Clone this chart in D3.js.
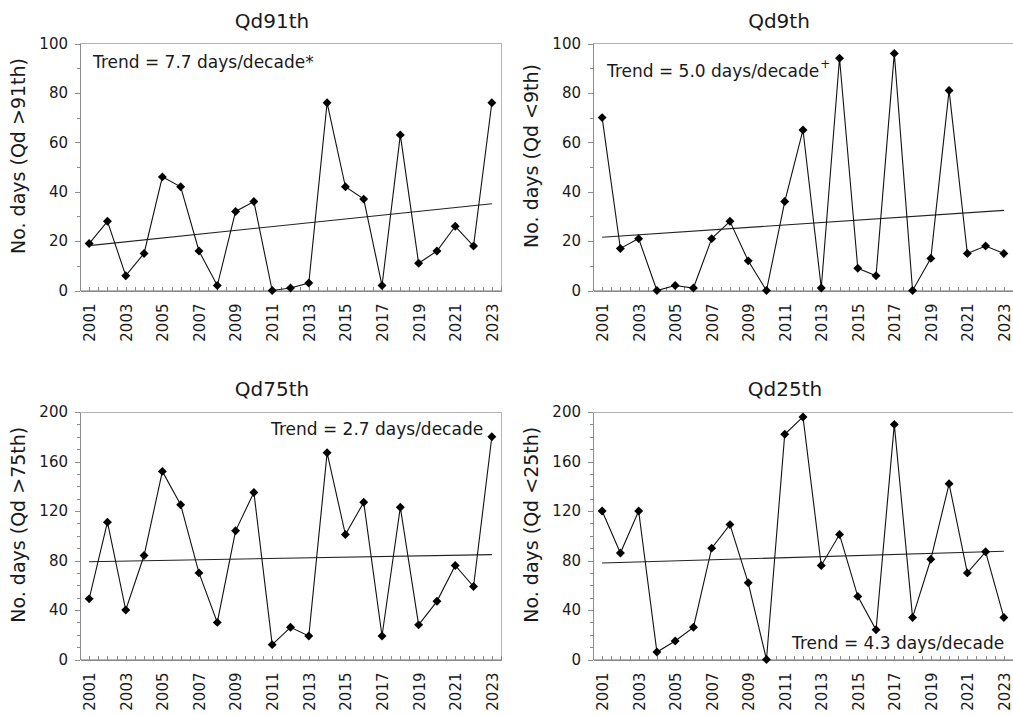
<!DOCTYPE html>
<html>
<head>
<meta charset="utf-8">
<script src="https://cdn.jsdelivr.net/npm/d3@7"></script>
<style>
  body { margin: 0; background: #fff; }
  svg { display: block; font-family: "DejaVu Sans", Verdana, sans-serif; }
  .axis path, .axis line { stroke: #8c8c8c; shape-rendering: crispEdges; }
  .axis text { fill: #1a1a1a; font-size: 15px; font-family: "DejaVu Sans", Verdana, sans-serif; }
</style>
</head>
<body>
<svg class="plot"></svg>
<script>
const width = 1013, height = 715;

// categories
const years = [2001, 2002, 2003, 2004, 2005, 2006, 2007, 2008, 2009, 2010, 2011, 2012,
               2013, 2014, 2015, 2016, 2017, 2018, 2019, 2020, 2021, 2022, 2023];
const yearLabels = [2001, 2003, 2005, 2007, 2009, 2011, 2013, 2015, 2017, 2019, 2021, 2023];

// series values (no. of days)
const qd91 = [19, 28, 6, 15, 46, 42, 16, 2, 32, 36, 0, 1, 3, 76, 42, 37, 2, 63, 11, 16, 26, 18, 76];
const qd9  = [70, 17, 21, 0, 2, 1, 21, 28, 12, 0, 36, 65, 1, 94, 9, 6, 96, 0, 13, 81, 15, 18, 15];
const qd75 = [49, 111, 40, 84, 152, 125, 70, 30, 104, 135, 12, 26, 19, 167, 101, 127, 19, 123, 28, 47, 76, 59, 180];
const qd25 = [120, 86, 120, 6, 15, 26, 90, 109, 62, 0, 182, 196, 76, 101, 51, 24, 190, 34, 81, 142, 70, 87, 34];

const titles = ["Qd91th", "Qd9th", "Qd75th", "Qd25th"];
const yLabels = ["No. days (Qd >91th)", "No. days (Qd <9th)", "No. days (Qd >75th)", "No. days (Qd <25th)"];
const trendTexts = ["Trend = 7.7 days/decade*", "Trend = 5.0 days/decade", "Trend = 2.7 days/decade", "Trend = 4.3 days/decade"];
const trendSup = ["", "+", "", ""];
const yMax = [100, 100, 200, 200];
const yMajor = [[0, 20, 40, 60, 80, 100], [0, 20, 40, 60, 80, 100],
                [0, 40, 80, 120, 160, 200], [0, 40, 80, 120, 160, 200]];

// layout of the four panels
const panels = [
  {values: qd91, left: 80,  top: 43.5, w: 421, h: 247, titleX: 272, titleY: 28,  trendX: 13,  trendY: 24.5},
  {values: qd9,  left: 593, top: 43.5, w: 420, h: 247, titleX: 779, titleY: 28,  trendX: 14,  trendY: 33},
  {values: qd75, left: 80,  top: 412,  w: 421, h: 247.5, titleX: 272, titleY: 396, trendX: 191, trendY: 23},
  {values: qd25, left: 593, top: 412,  w: 420, h: 247.5, titleX: 785, titleY: 396, trendX: 199, trendY: 236.5}
];

let svg = d3.select(".plot")
            .attr("width", width)
            .attr("height", height);

function fitLine(xs, ys) {
  let mx = d3.mean(xs), my = d3.mean(ys);
  let sxy = d3.sum(xs, (x, i) => (x - mx) * (ys[i] - my));
  let sxx = d3.sum(xs, (x) => (x - mx) * (x - mx));
  let b = sxy / sxx;
  return (x) => my + b * (x - mx);
}

panels.forEach((p, k) => {
  let x = d3.scaleLinear()
            .domain([years[0] - 0.5, years[years.length - 1] + 0.5])
            .range([0, p.w]);
  let y = d3.scaleLinear()
            .domain([0, yMax[k]])
            .range([p.h, 0]);

  let g = svg.append("g")
             .attr("transform", "translate(" + p.left + "," + p.top + ")");

  // Plot border
  g.append("rect")
   .attr("width", p.w)
   .attr("height", p.h)
   .style("fill", "none")
   .style("stroke", "#b4b4b4")
   .style("shape-rendering", "crispEdges");

  // x-Axis: ticks at every half year, labels on odd years
  let halfTicks = [];
  years.forEach((yr) => { halfTicks.push(yr - 0.5, yr); });
  halfTicks.push(years[years.length - 1] + 0.5);

  g.append("g")
   .attr("class", "axis")
   .attr("transform", "translate(0," + p.h + ")")
   .call(d3.axisBottom(x).tickValues(halfTicks).tickSize(-4).tickSizeOuter(0).tickFormat(""));

  let xl = g.append("g")
            .attr("class", "axis")
            .attr("transform", "translate(0," + p.h + ")")
            .call(d3.axisBottom(x).tickValues(yearLabels).tickSize(0).tickFormat(d3.format("d")));
  xl.select(".domain").remove();
  xl.selectAll("text")
    .attr("transform", "rotate(-90)")
    .attr("x", -13)
    .attr("y", 0)
    .attr("dy", "0.36em")
    .style("text-anchor", "end");

  // y-Axis
  let minor = d3.range(10, yMax[k], 10).filter((v) => yMajor[k].indexOf(v) < 0);
  g.append("g")
   .attr("class", "axis")
   .call(d3.axisLeft(y).tickValues(minor).tickSize(3).tickSizeOuter(0).tickFormat(""))
   .select(".domain").remove();

  g.append("g")
   .attr("class", "axis")
   .call(d3.axisLeft(y).tickValues(yMajor[k]).tickSize(5).tickPadding(7).tickSizeOuter(0));

  // y-Axis Label
  g.append("text")
   .attr("transform", "rotate(-90)")
   .attr("x", -(p.h / 2 - 11))
   .attr("y", -55)
   .attr("fill", "#1a1a1a")
   .style("font-size", "19px")
   .style("text-anchor", "middle")
   .text(yLabels[k]);

  // Title
  svg.append("text")
     .attr("x", p.titleX)
     .attr("y", p.titleY)
     .attr("fill", "#1a1a1a")
     .style("font-size", "20px")
     .style("text-anchor", "middle")
     .text(titles[k]);

  // Trend line
  let trend = fitLine(years, p.values);
  let first = years[0], last = years[years.length - 1];
  g.append("line")
   .attr("x1", x(first))
   .attr("y1", y(trend(first)))
   .attr("x2", x(last))
   .attr("y2", y(trend(last)))
   .attr("stroke", "#222")
   .attr("stroke-width", 1.1);

  // Series line
  let line = d3.line()
               .x((d, i) => x(years[i]))
               .y((d) => y(d));
  g.append("path")
   .datum(p.values)
   .attr("d", line)
   .attr("fill", "none")
   .attr("stroke", "#111")
   .attr("stroke-width", 1.1);

  // Points
  g.selectAll(".dot")
   .data(p.values)
   .enter().append("path")
   .attr("class", "dot")
   .attr("d", d3.symbol().type(d3.symbolSquare).size(40))
   .attr("transform", (d, i) => "translate(" + x(years[i]) + "," + y(d) + ") rotate(45)")
   .attr("fill", "#000");

  // Trend text
  let t = g.append("text")
           .attr("x", p.trendX)
           .attr("y", p.trendY)
           .attr("fill", "#1a1a1a")
           .style("font-size", "17px")
           .text(trendTexts[k]);
  if (trendSup[k]) {
    t.append("tspan")
     .attr("dx", 1)
     .attr("dy", -9)
     .style("font-size", "12px")
     .text(trendSup[k]);
  }
});
</script>
</body>
</html>
